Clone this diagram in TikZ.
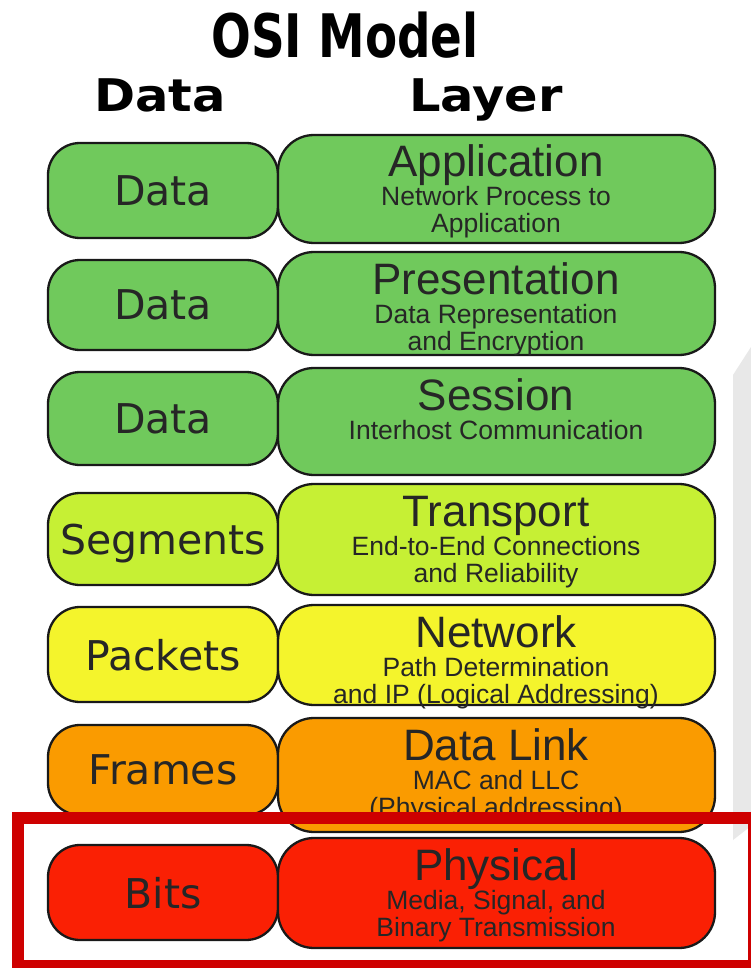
\documentclass[tikz,border=0pt]{standalone}
\usepackage{fontspec}
\setmainfont{Liberation Sans}
\newfontfamily\unitfont{DejaVu Sans}
\newfontfamily\headfont[FakeStretch=1.1]{DejaVu Sans}
\newfontfamily\titlefont[FakeStretch=0.78]{DejaVu Sans}

\definecolor{appgreen}{RGB}{112,201,92}
\definecolor{trngreen}{RGB}{198,240,52}
\definecolor{netyellow}{RGB}{244,244,44}
\definecolor{dllorange}{RGB}{250,155,0}
\definecolor{phyred}{RGB}{250,32,4}
\definecolor{hlred}{RGB}{206,0,0}

\tikzset{
    unitbox/.style={draw=black!90, line width=2.3pt, rounded corners=32pt,
        minimum width=230pt, text depth=0pt, text=black!85,
        font=\unitfont\fontsize{41}{41}\selectfont},
    layerbox/.style={draw=black!90, line width=2.3pt, rounded corners=36pt,
        minimum width=437pt},
    layername/.style={anchor=base, inner sep=0pt, text=black!85,
        font=\fontsize{44}{44}\selectfont},
    layerinfo/.style={anchor=base, inner sep=0pt, text=black!85,
        font=\fontsize{26.5}{26.5}\selectfont}
}

\begin{document}
\begin{tikzpicture}[x=1pt,y=-1pt]
    \useasboundingbox (0,0) rectangle (751,968);
    \fill [white] (0,0) rectangle (751,968);
    \node [anchor=base, font=\titlefont\bfseries\fontsize{60}{60}\selectfont] (title) at (345,58) {OSI Model};
    \node [anchor=base, font=\headfont\bfseries\fontsize{45}{45}\selectfont] (unithead) at (160,112) {Data};
    \node [anchor=base, font=\headfont\bfseries\fontsize{45}{45}\selectfont] (layerhead) at (486,112) {Layer};
    % shaded band on the right
    \fill [black!9] (733,375) -- (751,347) -- (751,826) -- (733,840) -- cycle;
    \foreach \n/\col/\lt/\lb/\rt/\rb/\unit/\layer/\infoA/\infoB in {
        1/appgreen/143/238/135/243/Data/Application/Network Process to/Application,
        2/appgreen/260/350/252/355/Data/Presentation/Data Representation/and Encryption,
        3/appgreen/372/465/368/475/Data/Session/Interhost Communication/,
        4/trngreen/493/585/484/595/Segments/Transport/End-to-End Connections/and Reliability,
        5/netyellow/607/702/605/705/Packets/Network/Path Determination/and IP (Logical Addressing),
        6/dllorange/725/815/718/832/Frames/Data Link/MAC and LLC/(Physical addressing),
        7/phyred/845/940/838/948/Bits/Physical/{Media, Signal, and}/Binary Transmission}
    {
        \node [unitbox, fill=\col, minimum height={\lb-\lt}] (unit\n) at (163,{(\lt+\lb)/2}) {\unit};
        \node [layerbox, fill=\col, minimum height={\rb-\rt}] (layer\n) at (496.5,{(\rt+\rb)/2}) {};
        \node [layername] (name\n) at (496,\rt+42) {\layer};
        \node [layerinfo] (infoa\n) at (496,\rt+71) {\infoA};
        \node [layerinfo] (infob\n) at (496,\rt+98) {\infoB};
    }
    % highlight frame round the bottom layer
    \begin{scope}
        \clip (0,0) rectangle (751,968);
        \draw [hlred, line width=12pt] (18,818) rectangle (754,966);
    \end{scope}
\end{tikzpicture}
\end{document}
